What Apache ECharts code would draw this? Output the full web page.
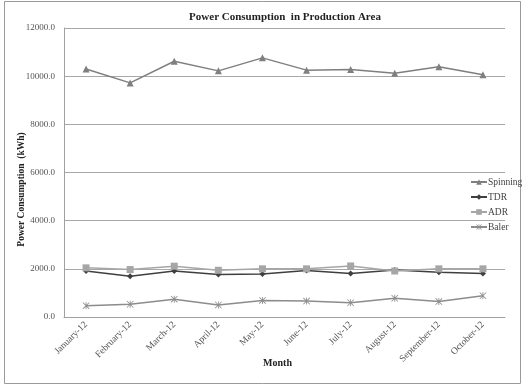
<!DOCTYPE html>
<html>
<head>
<meta charset="utf-8">
<script src="https://cdn.jsdelivr.net/npm/echarts@6/dist/echarts.min.js"></script>
<style>
  html, body { margin: 0; padding: 0; background: #fff; }
  #chart { width: 523px; height: 385px; }
</style>
</head>
<body>
<div id="chart"></div>
<script>
// Monthly power consumption (kWh) by production area
const months = ['January-12', 'February-12', 'March-12', 'April-12', 'May-12',
                'June-12', 'July-12', 'August-12', 'September-12', 'October-12'];
const spinning = [10300, 9720, 10620, 10220, 10760, 10250, 10280, 10120, 10390, 10060];
const tdr      = [1910, 1690, 1910, 1760, 1790, 1930, 1810, 1950, 1860, 1810];
const adr      = [2040, 1970, 2110, 1940, 2000, 2000, 2120, 1910, 2000, 2000];
const baler    = [470, 530, 740, 500, 690, 660, 590, 780, 640, 880];
const yTicks   = [0, 2000, 4000, 6000, 8000, 10000, 12000];

const serif = '"Liberation Serif", "DejaVu Serif", serif';
// asterisk-style marker built from three thin filled bars
const starPath = 'path://M4.4,0L5.6,0L5.6,10L4.4,10Z' +
                 'M0,0.8L0.8,0L10,9.2L9.2,10Z' +
                 'M9.2,0L10,0.8L0.8,10L0,9.2Z';

function lineSeries(name, data, color, symbol, size) {
  return {
    name: name,
    type: 'line',
    data: data,
    symbol: symbol,
    symbolSize: size,
    showSymbol: true,
    lineStyle: { color: color, width: 1.5 },
    itemStyle: { color: color, borderWidth: 0 },
    emphasis: { disabled: true },
    animation: false
  };
}

const chart = echarts.init(document.getElementById('chart'), null, { renderer: 'canvas' });
chart.setOption({
  backgroundColor: '#fff',
  animation: false,
  title: {
    text: 'Power Consumption  in Production Area',
    left: 280, top: 7, textAlign: 'center',
    textStyle: { fontFamily: serif, fontSize: 11, fontWeight: 'bold', color: '#222' }
  },
  graphic: [{
    type: 'rect',
    shape: { x: 4.5, y: 1.5, width: 516, height: 382 },
    style: { fill: 'none', stroke: '#9a9a9a', lineWidth: 1 },
    silent: true
  }],
  grid: { left: 64, right: 18, top: 28, bottom: 68, outerBoundsMode: 'none', containLabel: false },
  legend: {
    orient: 'vertical',
    left: 470, top: 177,
    itemWidth: 16, itemHeight: 7, itemGap: 5,
    padding: 0,
    textStyle: { fontFamily: serif, fontSize: 9.5, color: '#444', padding: [0, 0, 0, -4] },
    data: ['Spinning', 'TDR', 'ADR', 'Baler']
  },
  xAxis: {
    type: 'category',
    data: months,
    boundaryGap: true,
    name: 'Month',
    nameLocation: 'middle',
    nameMoveOverlap: false,
    nameGap: 41,
    nameTextStyle: { fontFamily: serif, fontSize: 10, fontWeight: 'bold', color: '#222', padding: [0, 14, 0, 0] },
    axisLine: { lineStyle: { color: '#a0a0a0' } },
    axisTick: { show: false },
    axisLabel: { rotate: 45, fontFamily: serif, fontSize: 9.5, color: '#555', margin: 6 }
  },
  yAxis: {
    type: 'value',
    min: yTicks[0], max: yTicks[yTicks.length - 1], interval: 2000,
    name: 'Power Consumption  (kWh)',
    nameLocation: 'middle',
    nameMoveOverlap: false,
    nameGap: 37,
    nameTextStyle: { fontFamily: serif, fontSize: 9.5, fontWeight: 'bold', color: '#222', padding: [0, 34, 0, 0] },
    axisLine: { show: true, lineStyle: { color: '#a0a0a0' } },
    axisTick: { show: false },
    splitLine: { lineStyle: { color: '#a8a8a8', width: 1 } },
    axisLabel: {
      fontFamily: serif, fontSize: 9, color: '#555', margin: 9,
      formatter: v => v.toFixed(1)
    }
  },
  series: [
    lineSeries('Spinning', spinning, '#7f7f7f', 'triangle', 7),
    lineSeries('TDR', tdr, '#3f3f3f', 'diamond', 6),
    lineSeries('ADR', adr, '#a6a6a6', 'rect', 7),
    lineSeries('Baler', baler, '#8c8c8c', starPath, 7)
  ]
});
</script>
</body>
</html>
